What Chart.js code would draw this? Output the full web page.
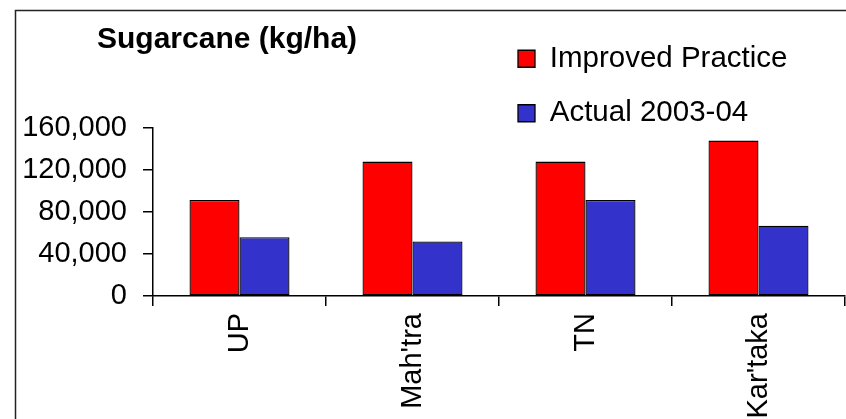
<!DOCTYPE html>
<html>
<head>
<meta charset="utf-8">
<script src="https://cdn.jsdelivr.net/npm/chart.js@4.4.0/dist/chart.umd.min.js"></script>
<style>
  html, body { margin: 0; padding: 0; background: #fff; }
  #wrap { width: 846px; height: 419px; position: relative; }
</style>
</head>
<body>
<div id="wrap"><canvas id="sugarcane"></canvas></div>
<script>
const states = ['UP', "Mah'tra", 'TN', "Kar'taka"];
const improved = [91500, 128000, 128000, 148000];
const actual = [56000, 52000, 91500, 67000];
const yTicks = [0, 40000, 80000, 120000, 160000];
const yLabels = ['0', '40,000', '80,000', '120,000', '160,000'];

window.onload = start;

function start() {
  Chart.defaults.font.family = '"Liberation Sans", Arial, sans-serif';
  Chart.defaults.color = '#000';
  chartSugarcane();
}

// frame round the chart + move title and legend where the original has them
const framePlugin = {
  id: 'frame',
  beforeDraw(chart) {
    const c = chart.ctx;
    c.save();
    c.fillStyle = '#fff';
    c.fillRect(0, 0, chart.width, chart.height);
    c.strokeStyle = '#222';
    c.lineWidth = 1.5;
    c.beginPath();
    c.moveTo(15.5, chart.height);
    c.lineTo(15.5, 10.5);
    c.lineTo(chart.width, 10.5);
    c.stroke();
    c.restore();
  },
  afterLayout(chart) {
    const lg = chart.legend;
    const w = lg.width, h = lg.height;
    lg.left = 493;
    lg.top = 19;
    lg.right = lg.left + w;
    lg.bottom = lg.top + h;
    const t = chart.titleBlock;
    t.left = 97;
    t.right = 440;
  }
};

function chartSugarcane() {
  const ctx = document.getElementById('sugarcane');

  new Chart(ctx, {
    type: 'bar',
    data: {
      labels: states,
      datasets: [{
        label: 'Improved Practice',
        data: improved,
        backgroundColor: '#ff0000',
        borderColor: '#000',
        borderWidth: 1.3,
        borderSkipped: false,
        categoryPercentage: 0.578,
        barPercentage: 1
      },
      {
        label: 'Actual 2003-04',
        data: actual,
        backgroundColor: '#3333cc',
        borderColor: '#000',
        borderWidth: 1.3,
        borderSkipped: false,
        categoryPercentage: 0.578,
        barPercentage: 1
      }]
    },
    options: {
      responsive: true,
      maintainAspectRatio: false,
      animation: false,
      layout: { padding: { left: 0, right: 1, top: 0, bottom: 0 } },
      plugins: {
        title: {
          display: true,
          text: 'Sugarcane (kg/ha)',
          align: 'start',
          color: '#000',
          font: { size: 30, weight: 'bold' },
          padding: { top: 22, bottom: 70 }
        },
        legend: {
          display: true,
          position: 'chartArea',
          align: 'start',
          labels: {
            boxWidth: 17,
            boxHeight: 17,
            padding: 25,
            color: '#000',
            font: { size: 29.5 }
          }
        },
        tooltip: { enabled: false }
      },
      scales: {
        x: {
          grid: {
            display: true,
            drawOnChartArea: false,
            tickLength: 10,
            offset: true,
            color: '#000',
            lineWidth: 1.5
          },
          border: { display: true, color: '#000', width: 1.5 },
          ticks: {
            minRotation: 90,
            maxRotation: 90,
            autoSkip: false,
            padding: 7,
            color: '#000',
            font: { size: 29 }
          },
          afterFit(scale) { scale.height = 123; }
        },
        y: {
          min: 0,
          max: 160000,
          grid: {
            drawOnChartArea: false,
            tickLength: 10,
            color: '#000',
            lineWidth: 1.5
          },
          border: { display: true, color: '#000', width: 1.5 },
          ticks: {
            padding: 16,
            color: '#000',
            font: { size: 29 },
            callback: function (v, i) { return yLabels[i]; }
          },
          afterBuildTicks(axis) {
            axis.ticks = yTicks.map(v => ({ value: v }));
          },
          afterFit(scale) { scale.width = 153; }
        }
      }
    },
    plugins: [framePlugin]
  });
}
</script>
</body>
</html>
